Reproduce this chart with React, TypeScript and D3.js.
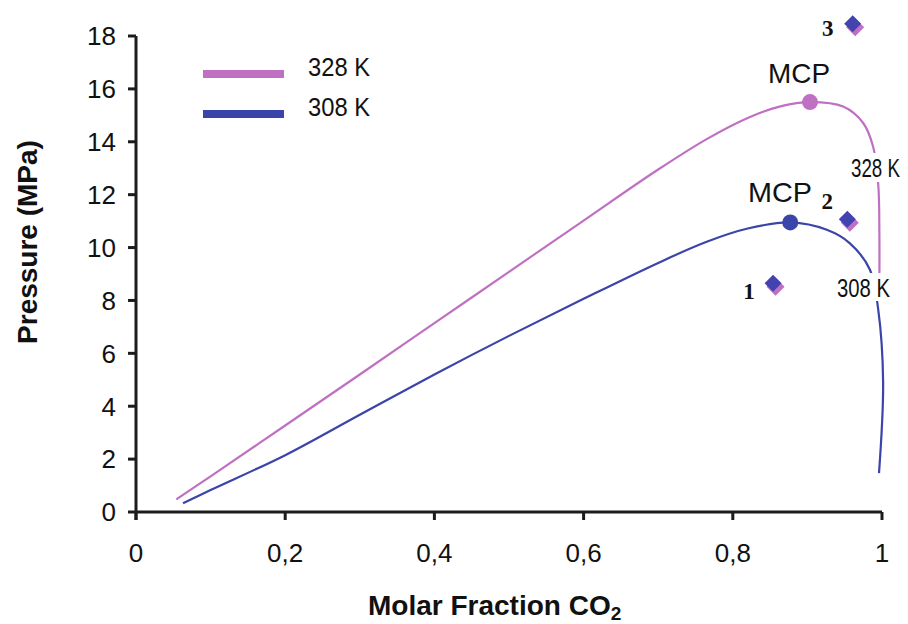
import React from "react";
import * as d3 from "d3";

const xTicks = [0, 0.2, 0.4, 0.6, 0.8, 1];
const xTickLabels = ["0", "0,2", "0,4", "0,6", "0,8", "1"];
const yTicks = [0, 2, 4, 6, 8, 10, 12, 14, 16, 18];

const curve328: [number, number][] = [
  [0.054, 0.48], [0.1, 1.35], [0.2, 3.27], [0.3, 5.2], [0.4, 7.14],
  [0.5, 9.08], [0.6, 11.02], [0.7, 12.95], [0.765, 14.1], [0.82, 14.9],
  [0.865, 15.35], [0.9035, 15.5], [0.948, 15.33], [0.975, 14.7], [0.988, 13.82],
  [0.995, 12.37], [0.9965, 10.5], [0.9965, 8.9],
];
const curve308: [number, number][] = [
  [0.063, 0.33], [0.1, 0.83], [0.2, 2.15], [0.3, 3.68], [0.4, 5.2],
  [0.5, 6.66], [0.6, 8.06], [0.7, 9.42], [0.765, 10.22], [0.82, 10.72],
  [0.877, 10.95], [0.926, 10.67], [0.957, 10.16], [0.984, 9.15], [0.995, 7.64],
  [1.0015, 4.9], [0.996, 1.47],
];
const mcp328: [number, number] = [0.9035, 15.5];
const mcp308: [number, number] = [0.877, 10.95];
const expPoints: { label: string; x: number; y: number }[] = [
  { label: "1", x: 0.854, y: 8.65 },
  { label: "2", x: 0.9535, y: 11.07 },
  { label: "3", x: 0.9607, y: 18.46 },
];

const PINK = "#C070C2";
const BLUE = "#3B44A8";
const DIAMOND_BLUE = "#4343B0";
const AXIS = "#1c1c1c";

export default function App() {
  const x = d3.scaleLinear().domain([0, 1]).range([136, 882]);
  const y = d3.scaleLinear().domain([0, 18]).range([512, 36]);
  const line = d3
    .line<[number, number]>()
    .x((d) => x(d[0]))
    .y((d) => y(d[1]))
    .curve(d3.curveCatmullRom.alpha(0.5));
  const diamond = (cx: number, cy: number, r: number) =>
    `M${cx},${cy - r}L${cx + r},${cy}L${cx},${cy + r}L${cx - r},${cy}Z`;

  const labelOffsets: Record<string, [number, number]> = {
    "1": [-24, 16],
    "2": [-20, -10],
    "3": [-25, 12],
  };

  return (
    <svg
      width={908}
      height={624}
      style={{ position: "absolute", left: 0, top: 0, background: "#fff" }}
      fontFamily="Liberation Sans, Arial, sans-serif"
    >
      <rect width={908} height={624} fill="#fff" />
      {/* curves */}
      <path d={line(curve328) || ""} fill="none" stroke={PINK} strokeWidth={2.2} />
      <path d={line(curve308) || ""} fill="none" stroke={BLUE} strokeWidth={2.2} />
      <circle cx={x(mcp328[0])} cy={y(mcp328[1])} r={8} fill={PINK} />
      <circle cx={x(mcp308[0])} cy={y(mcp308[1])} r={8} fill={BLUE} />

      {/* experimental points */}
      {expPoints.map((p) => {
        const cx = x(p.x);
        const cy = y(p.y);
        const off = labelOffsets[p.label];
        return (
          <g key={p.label}>
            <path d={diamond(cx + 2.5, cy + 3.5, 9)} fill={PINK} />
            <path d={diamond(cx, cy, 8.5)} fill={DIAMOND_BLUE} />
            <text
              x={cx + off[0]}
              y={cy + off[1]}
              textAnchor="middle"
              fontFamily="Liberation Serif, Times New Roman, serif"
              fontWeight="bold"
              fontSize={23}
              fill="#111"
            >
              {p.label}
            </text>
          </g>
        );
      })}

      {/* curve labels */}
      <text x={799} y={83} textAnchor="middle" fontSize={28} fill="#111" textLength={62} lengthAdjust="spacingAndGlyphs">
        MCP
      </text>
      <text x={780} y={202} textAnchor="middle" fontSize={28} fill="#111" textLength={64} lengthAdjust="spacingAndGlyphs">
        MCP
      </text>
      <rect x={849} y={153} width={55} height={29} fill="#fff" />
      <text x={851} y={177} fontSize={25} fill="#111" textLength={49} lengthAdjust="spacingAndGlyphs">
        328 K
      </text>
      <rect x={834} y={273} width={60} height={28} fill="#fff" />
      <text x={837} y={297} fontSize={25} fill="#111" textLength={53} lengthAdjust="spacingAndGlyphs">
        308 K
      </text>

      {/* legend */}
      <line x1={203} x2={284} y1={74} y2={74} stroke={PINK} strokeWidth={8} />
      <line x1={203} x2={284} y1={114} y2={114} stroke={BLUE} strokeWidth={8} />
      <text x={308} y={76} fontSize={25} fill="#111" textLength={62} lengthAdjust="spacingAndGlyphs">
        328 K
      </text>
      <text x={308} y={116} fontSize={25} fill="#111" textLength={62} lengthAdjust="spacingAndGlyphs">
        308 K
      </text>

      {/* axes */}
      <line x1={x(0)} x2={x(0)} y1={y(18)} y2={y(0) + 8} stroke={AXIS} strokeWidth={3} />
      <line x1={x(0)} x2={x(1)} y1={y(0)} y2={y(0)} stroke={AXIS} strokeWidth={3} />
      {yTicks.map((t) => (
        <g key={"y" + t}>
          <line x1={x(0) - 8} x2={x(0)} y1={y(t)} y2={y(t)} stroke={AXIS} strokeWidth={3} />
          <text x={116} y={y(t)} dy="0.36em" textAnchor="end" fontSize={26} fill="#111">
            {t}
          </text>
        </g>
      ))}
      {xTicks.map((t, i) => (
        <g key={"x" + t}>
          <line x1={x(t)} x2={x(t)} y1={y(0)} y2={y(0) + 8} stroke={AXIS} strokeWidth={3} />
          <text x={x(t)} y={562} textAnchor="middle" fontSize={26} fill="#111">
            {xTickLabels[i]}
          </text>
        </g>
      ))}

      {/* axis titles */}
      <text
        transform="translate(37,242) rotate(-90)"
        textAnchor="middle"
        fontSize={28}
        fontWeight="bold"
        fill="#111"
      >
        Pressure (MPa)
      </text>
      <text x={368} y={615} fontSize={28} fontWeight="bold" fill="#111">
        Molar Fraction CO
        <tspan fontSize={19} dy={5}>2</tspan>
      </text>
    </svg>
  );
}
